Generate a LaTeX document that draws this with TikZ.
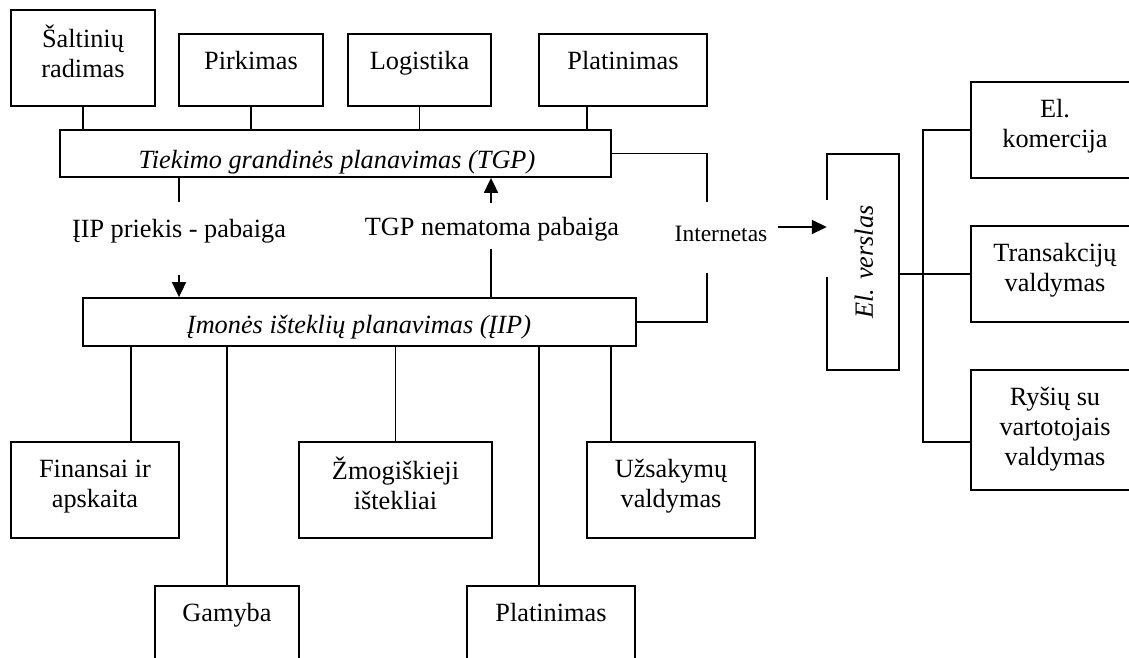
\documentclass[tikz,border=0pt]{standalone}
\usepackage{fontspec}
\setmainfont{Liberation Serif}
\usetikzlibrary{arrows.meta}
\begin{document}
\begin{tikzpicture}[x=1pt,y=-1pt,
  box/.style={draw,line width=1.8pt,inner sep=0pt,rectangle},
  ln/.style={line width=1.8pt},
  arr/.style={line width=1.8pt,-{Triangle[length=15pt,width=14pt]}},
  txt/.style={align=center,inner sep=0pt,font=\fontsize{26.3}{30}\selectfont},
  itxt/.style={inner sep=0pt,font=\fontsize{26.3}{30}\selectfont\itshape},
  stxt/.style={inner sep=0pt,font=\fontsize{23.5}{27}\selectfont}]
\useasboundingbox (0,0) rectangle (1129,657);
\clip (0,0) rectangle (1129,657);
% top boxes
\node[box,minimum width=144pt,minimum height=96pt] (salt) at (83,58) {};
\node[box,minimum width=144pt,minimum height=72pt] (pirk) at (251,70) {};
\node[box,minimum width=143pt,minimum height=72pt] (logi) at (419.5,70) {};
\node[box,minimum width=168pt,minimum height=72pt] (plat1) at (623,70) {};
% planning boxes
\node[box,minimum width=551pt,minimum height=47pt] (tgp) at (335.5,153.5) {};
\node[box,minimum width=553pt,minimum height=48pt] (iip) at (359.5,322) {};
% bottom boxes
\node[box,minimum width=168pt,minimum height=96pt] (fin) at (95,490) {};
\node[box,minimum width=144pt,minimum height=114pt] (gam) at (227,643) {};
\node[box,minimum width=193pt,minimum height=96pt] (zmog) at (395.5,490) {};
\node[box,minimum width=168pt,minimum height=114pt] (plat2) at (551,643) {};
\node[box,minimum width=168pt,minimum height=96pt] (uzs) at (671,490) {};
% right side
\node[inner sep=0pt,minimum width=72pt,minimum height=216pt] (elv) at (863,262) {};
\node[box,minimum width=168pt,minimum height=96pt] (ek) at (1055,130) {};
\node[box,minimum width=168pt,minimum height=96pt] (tr) at (1055,274) {};
\node[box,minimum width=168pt,minimum height=120pt] (rs) at (1055,430) {};
% texts
\node[txt,anchor=north] (tsalt) at ([yshift=-15.5pt]salt.north) {\strut Šaltinių\\radimas};
\node[txt,anchor=north] (tpirk) at ([yshift=-15.5pt]pirk.north) {\strut Pirkimas};
\node[txt,anchor=north] (tlogi) at ([yshift=-15.5pt]logi.north) {\strut Logistika};
\node[txt,anchor=north] (tplat1) at ([yshift=-15.5pt]plat1.north) {\strut Platinimas};
\node[txt,anchor=north] (tfin) at ([yshift=-15.5pt]fin.north) {\strut Finansai ir\\apskaita};
\node[txt,anchor=north] (tgam) at ([yshift=-15.5pt]gam.north) {\strut Gamyba};
\node[txt,anchor=north] (tzmog) at ([yshift=-15.5pt]zmog.north) {\strut Žmogiškieji\\ištekliai};
\node[txt,anchor=north] (tplat2) at ([yshift=-15.5pt]plat2.north) {\strut Platinimas};
\node[txt,anchor=north] (tuzs) at ([yshift=-15.5pt]uzs.north) {\strut Užsakymų\\valdymas};
\node[txt,anchor=north] (tek) at ([yshift=-15.5pt]ek.north) {\strut El.\\komercija};
\node[txt,anchor=north] (ttr) at ([yshift=-15.5pt]tr.north) {\strut Transakcijų\\valdymas};
\node[txt,anchor=north] (trs) at ([yshift=-15.5pt]rs.north) {\strut Ryšių su\\vartotojais\\valdymas};
\node[itxt,anchor=base] (ttgp) at (337,168) {Tiekimo grandinės planavimas (TGP)};
\node[itxt,anchor=base] (tiip) at (359,333) {Įmonės išteklių planavimas (ĮIP)};
\node[itxt,rotate=90] (telv) at (864,262) {El. verslas};
\node[txt,anchor=base] (l1) at (179,237) {ĮIP priekis - pabaiga};
\node[txt,anchor=base] (l2) at (492,235) {TGP nematoma pabaiga};
\node[stxt,anchor=base] (l3) at (721,241) {Internetas};
% El. verslas outline (left side open where the arrow arrives)
\draw[ln] ([yshift=62pt]elv.west) -- (elv.north west) -- (elv.north east) -- (elv.south east) -- (elv.south west) -- ([yshift=-15pt]elv.west);
% top connectors
\draw[ln] (salt.south) -- (salt.south |- tgp.north);
\draw[ln] (pirk.south) -- (pirk.south |- tgp.north);
\draw[ln] (logi.south) -- (logi.south |- tgp.north);
\draw[ln] ([xshift=-36pt]plat1.south) -- ([xshift=-36pt]plat1.south |- tgp.north);
% bottom connectors
\draw[ln] ([xshift=36pt]fin.north) -- ([xshift=36pt]fin.north |- iip.south);
\draw[ln] (gam.north) -- (gam.north |- iip.south);
\draw[ln] (zmog.north) -- (zmog.north |- iip.south);
\draw[ln] ([xshift=-12pt]plat2.north) -- ([xshift=-12pt]plat2.north |- iip.south);
\draw[ln] ([xshift=-60pt]uzs.north) -- ([xshift=-60pt]uzs.north |- iip.south);
% TGP <-> IIP
\coordinate (a1) at (179,202);
\coordinate (a2) at (179,275);
\coordinate (b1) at (491,249);
\coordinate (b2) at (491,203);
\draw[ln] (a1 |- tgp.south) -- (a1);
\draw[arr] (a2) -- (a2 |- iip.north);
\draw[ln] (b1 |- iip.north) -- (b1);
\draw[arr] (b2) -- (b2 |- tgp.south);
% Internet
\coordinate (c1) at (707,202);
\coordinate (c2) at (707,273);
\draw[ln] (tgp.east) -| (c1);
\draw[ln] (c2) |- (iip.east);
\coordinate (d1) at (778,227);
\draw[arr] (d1) -- (d1 -| elv.west);
% right bus
\coordinate (e1) at (923,442);
\draw[ln] (ek.west) -| (e1) -- (e1 -| rs.west);
\draw[ln] (tr.west -| elv.east) -- (tr.west);
\end{tikzpicture}
\end{document}
